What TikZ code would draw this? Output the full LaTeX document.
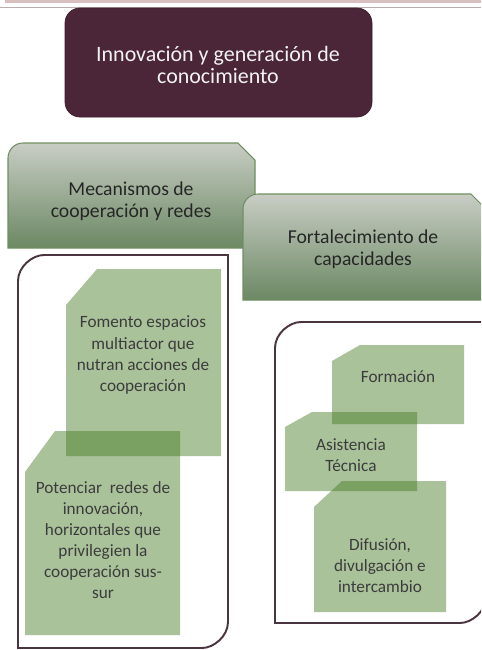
\documentclass[tikz,border=0pt]{standalone}
\usepackage{fontspec}
\setmainfont{Carlito}

\definecolor{bandpink}{HTML}{D9BFC0}
\definecolor{bandgray}{HTML}{B8AFB1}
\definecolor{titlefill}{HTML}{4B2638}
\definecolor{titleline}{HTML}{3F1F2E}
\definecolor{headtop}{HTML}{C8CDC4}
\definecolor{headbot}{HTML}{6B8863}
\definecolor{headline}{HTML}{6F8F60}
\definecolor{framecol}{HTML}{4A3440}
\definecolor{itemgreen}{RGB}{65,120,32}
\definecolor{darktext}{HTML}{262626}

\tikzset{
  headbox/.style={top color=headtop, bottom color=headbot, draw=headline, line width=0.6pt},
  framebox/.style={draw=framecol, line width=1.1pt},
  itembox/.style={fill=itemgreen, fill opacity=0.45},
  titletext/.style={align=center, inner sep=0pt, text=white!95!black, font=\fontsize{12.5}{13}\selectfont},
  headtext/.style={align=center, inner sep=0pt, text=darktext, font=\fontsize{11.2}{12.5}\selectfont},
  itemtext/.style={align=center, inner sep=0pt, text=darktext!90!white, font=\fontsize{9.8}{12}\selectfont}
}

\begin{document}
\begin{tikzpicture}[x=0.02cm,y=-0.02cm]
\clip (0,0) rectangle (481,650);
\fill[white] (0,0) rectangle (481,650);

\fill[bandpink] (5,0) rectangle (481,3);
\draw[bandgray, line width=0.6pt] (0,7.5) -- (481,7.5);

% top box
\draw[fill=titlefill, draw=titleline, rounded corners=0.3cm] (65,8) rectangle (372,117);
\node[titletext] (innov) at (218,65) {Innovación y generación de\\conocimiento};

% headers
\shadedraw[headbox] (8,248) -- (8,158) .. controls (8,149.7) and (14.7,143) .. (23,143)
  -- (238,143) -- (255,160) -- (255,248) -- cycle;
\node[headtext] (meca) at (131,201) {Mecanismos de\\cooperación y redes};

\shadedraw[headbox] (243,300) -- (243,209) .. controls (243,200.7) and (249.7,194) .. (258,194)
  -- (471,194) -- (488,211) -- (488,300) -- cycle;
\node[headtext] (forta) at (363,249) {Fortalecimiento de\\capacidades};

% frames
\draw[framebox] (18,648) -- (18,281) .. controls (18,266.6) and (32.4,255) .. (44,255)
  -- (228,255) -- (228,622) .. controls (228,636.4) and (213.6,648) .. (202,648) -- cycle;
\draw[framebox] (275,623) -- (275,348) .. controls (275,333.6) and (289.4,322) .. (301,322)
  -- (486,322) -- (486,597) .. controls (486,611.4) and (471.6,623) .. (460,623) -- cycle;

% left items
\fill[itembox] (66,305) -- (97,269) -- (221,269) -- (221,456) -- (66,456) -- cycle;
\node[itemtext] (fomento) at (143,355) {Fomento espacios\\multiactor que\\nutran acciones de\\cooperación};

\fill[itembox] (25,472) -- (55,431) -- (180,431) -- (180,635) -- (25,635) -- cycle;
\node[itemtext] (potenciar) at (103,540) {Potenciar\ \ redes de\\innovación,\\horizontales que\\privilegien la\\cooperación sus-\\sur};

% right items
\fill[itembox] (332,361) -- (360,345) -- (464,345) -- (464,424) -- (332,424) -- cycle;
\node[itemtext] (formacion) at (398,377) {Formación};

\fill[itembox] (285,427) -- (312,412) -- (417,412) -- (417,491) -- (285,491) -- cycle;
\node[itemtext] (asistencia) at (351,455) {Asistencia\\Técnica};

\fill[itembox] (314,507) -- (342,481) -- (446,481) -- (446,612) -- (314,612) -- cycle;
\node[itemtext] (difusion) at (380,566) {Difusión,\\divulgación e\\intercambio};
\end{tikzpicture}
\end{document}
